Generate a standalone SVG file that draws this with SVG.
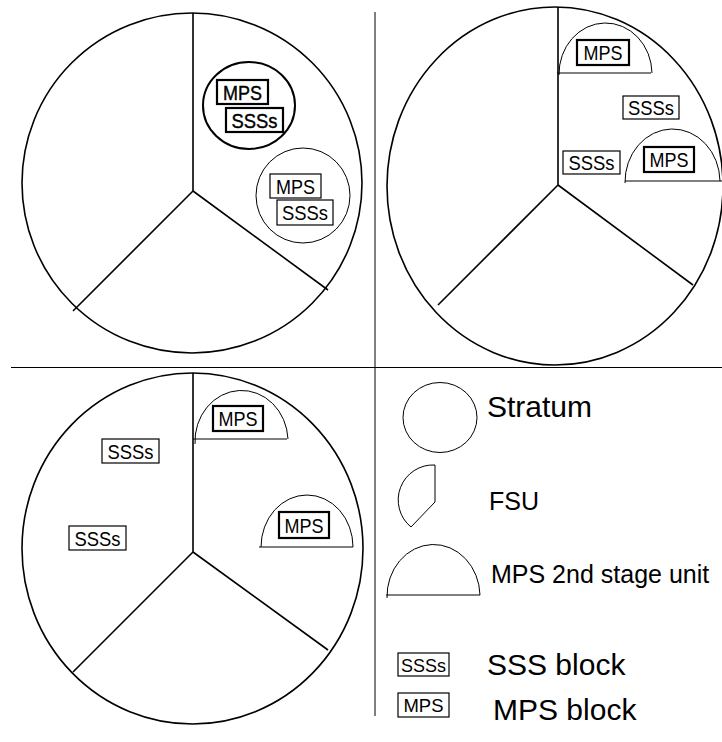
<svg xmlns="http://www.w3.org/2000/svg" width="722" height="742" viewBox="0 0 722 742">
<style>
  .pie{fill:none;stroke:#000;stroke-width:1.6}
  .thin{fill:none;stroke:#000;stroke-width:1}
  .bold{fill:none;stroke:#000;stroke-width:2}
  .box{fill:#fff;stroke:#000;stroke-width:1.2}
  .boxb{fill:#fff;stroke:#000;stroke-width:2.2}
  .lbl{font-family:"Liberation Sans",Arial,sans-serif;font-size:21px;fill:#000;text-anchor:middle}
  .hv{stroke:#000;stroke-width:0.4}
  .lbls{font-family:"Liberation Sans",Arial,sans-serif;font-size:19px;fill:#000;text-anchor:middle}
  .leg{font-family:"Liberation Sans",Arial,sans-serif;font-size:30px;fill:#000}
  .legs{font-family:"Liberation Sans",Arial,sans-serif;font-size:25px;fill:#000}
</style>
<rect width="722" height="742" fill="#fff"/>
<g id="dividers">
  <line class="thin" x1="375" y1="12" x2="375" y2="716"/>
  <line class="thin" x1="11" y1="367.5" x2="722" y2="367.5"/>
</g>
<g id="pie-top-left">
  <ellipse class="pie" cx="192" cy="183" rx="170" ry="170"/>
  <polyline class="pie" points="193,13 193,191 73,311"/>
  <line class="pie" x1="193" y1="191" x2="328" y2="290"/>
</g>
<g id="stratum-1">
  <ellipse class="bold" cx="249" cy="105.5" rx="46" ry="43.5"/>
  <rect class="boxb" x="217" y="80" width="51" height="24"/>
  <text class="lbl hv" x="242.5" y="99.5" textLength="39" lengthAdjust="spacingAndGlyphs">MPS</text>
  <rect class="boxb" x="226" y="108" width="57" height="24"/>
  <text class="lbl hv" x="254.5" y="127.5" textLength="46" lengthAdjust="spacingAndGlyphs">SSSs</text>
</g>
<g id="stratum-2">
  <ellipse class="thin" cx="303" cy="195.5" rx="47" ry="47.5"/>
  <rect class="box" x="270" y="174" width="51" height="24" stroke-width="1.6"/>
  <text class="lbl" x="295.5" y="193.5" textLength="39" lengthAdjust="spacingAndGlyphs">MPS</text>
  <rect class="box" x="277" y="200" width="56" height="25" stroke-width="1.6"/>
  <text class="lbl" x="305" y="220" textLength="46" lengthAdjust="spacingAndGlyphs">SSSs</text>
</g>
<g id="pie-top-right">
  <ellipse class="pie" cx="555" cy="186" rx="168" ry="179"/>
  <polyline class="pie" points="558,7 558,185 438,305"/>
  <line class="pie" x1="558" y1="185" x2="693" y2="285"/>
</g>
<g id="mps-unit-tr1">
  <path class="thin" d="M559,75 A46.5,51 0 0 1 652,73 M557,73 L651,73"/>
  <rect class="boxb" x="577" y="40" width="52" height="25"/>
  <text class="lbl" x="603" y="60" textLength="39" lengthAdjust="spacingAndGlyphs">MPS</text>
</g>
<g id="sss-tr1">
  <rect class="box" x="623" y="96" width="56" height="23"/>
  <text class="lbl" x="651" y="115" textLength="46" lengthAdjust="spacingAndGlyphs">SSSs</text>
</g>
<g id="sss-tr2">
  <rect class="box" x="563" y="151" width="57" height="23"/>
  <text class="lbl" x="591.5" y="170" textLength="46" lengthAdjust="spacingAndGlyphs">SSSs</text>
</g>
<g id="mps-unit-tr2">
  <path class="thin" d="M625,183 A47.5,53 0 0 1 720,181 M625,181 L722,181"/>
  <rect class="boxb" x="644" y="147" width="50" height="25"/>
  <text class="lbl" x="669" y="167" textLength="39" lengthAdjust="spacingAndGlyphs">MPS</text>
</g>
<g id="pie-bottom-left">
  <ellipse class="pie" cx="192.5" cy="548.5" rx="170.5" ry="175.5"/>
  <polyline class="pie" points="193,373 193,552 73,672"/>
  <line class="pie" x1="193" y1="552" x2="328" y2="650"/>
</g>
<g id="mps-unit-bl1">
  <path class="thin" d="M195,444 A46.5,51 0 0 1 288,439 M193,439 L287,439"/>
  <rect class="boxb" x="213" y="406" width="50" height="25"/>
  <text class="lbl" x="238" y="426" textLength="39" lengthAdjust="spacingAndGlyphs">MPS</text>
</g>
<g id="mps-unit-bl2">
  <path class="thin" d="M261,547 A46,52 0 0 1 353,547 M259,547 L353,547"/>
  <rect class="boxb" x="279" y="512" width="50" height="26"/>
  <text class="lbl" x="304" y="532.5" textLength="39" lengthAdjust="spacingAndGlyphs">MPS</text>
</g>
<g id="sss-bl1">
  <rect class="box" x="102" y="439" width="57" height="24"/>
  <text class="lbl" x="130.5" y="458.5" textLength="46" lengthAdjust="spacingAndGlyphs">SSSs</text>
</g>
<g id="sss-bl2">
  <rect class="box" x="69" y="526" width="57" height="24"/>
  <text class="lbl" x="97.5" y="545.5" textLength="46" lengthAdjust="spacingAndGlyphs">SSSs</text>
</g>
<g id="legend-stratum">
  <ellipse class="thin" cx="440" cy="417.5" rx="37" ry="35"/>
  <text class="leg" x="487" y="417">Stratum</text>
</g>
<g id="legend-fsu">
  <path class="thin" d="M435,465 L435,502 L411,527 A35,35 0 0 1 435,465 Z"/>
  <text class="legs" x="489" y="510">FSU</text>
</g>
<g id="legend-mps-unit">
  <path class="thin" d="M387,598 A46.5,52 0 0 1 480,595 M386,595 L480,595"/>
  <text class="legs" x="491" y="583">MPS 2nd stage unit</text>
</g>
<g id="legend-sss-block">
  <rect class="box" x="398" y="653" width="51" height="23"/>
  <text class="lbls" x="423.5" y="671.5" textLength="45" lengthAdjust="spacingAndGlyphs">SSSs</text>
  <text class="leg" x="487" y="675">SSS block</text>
</g>
<g id="legend-mps-block">
  <rect class="box" x="398" y="693" width="51" height="24"/>
  <text class="lbls" x="423.5" y="712" textLength="40" lengthAdjust="spacingAndGlyphs">MPS</text>
  <text class="leg" x="493" y="720">MPS block</text>
</g>
</svg>
